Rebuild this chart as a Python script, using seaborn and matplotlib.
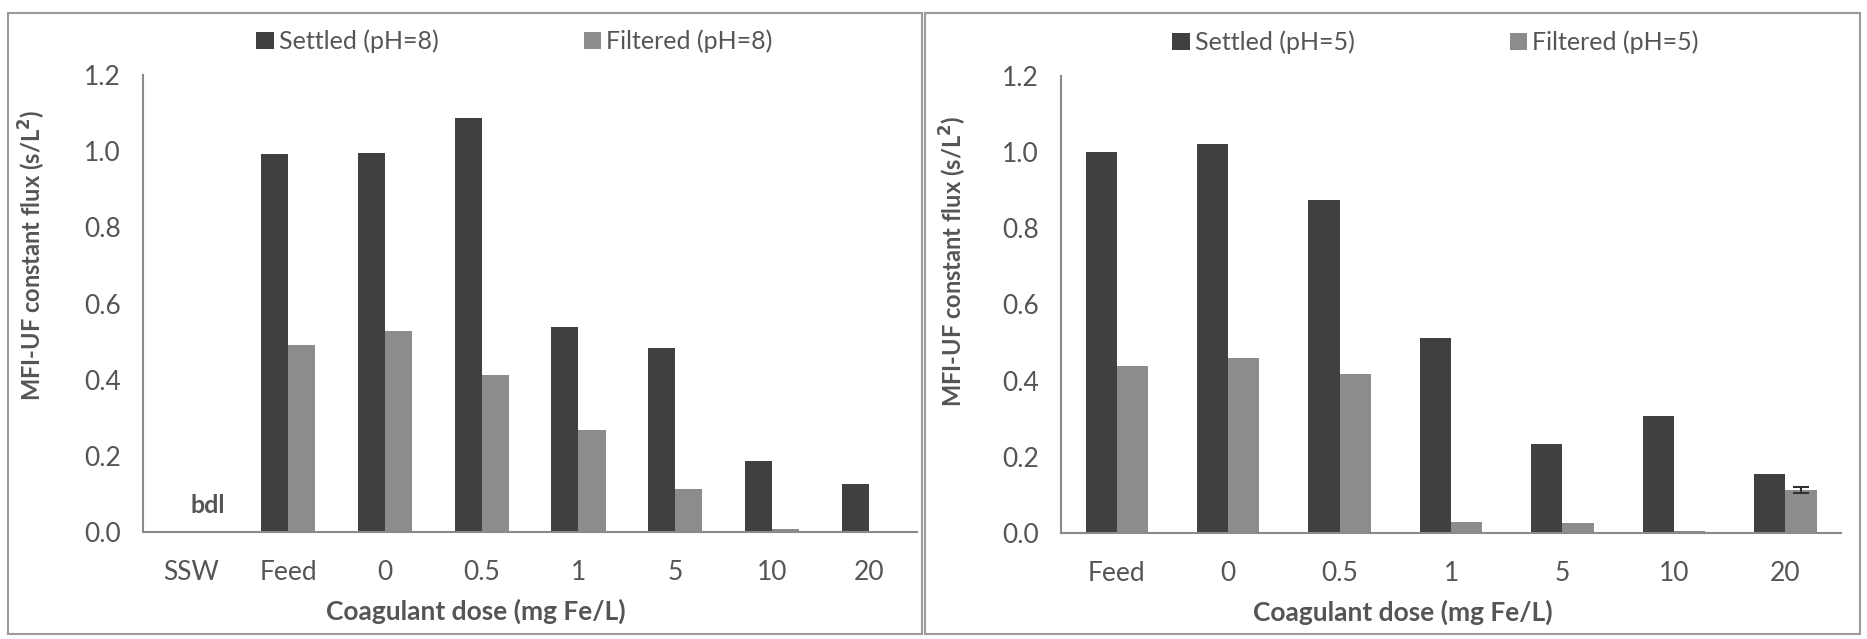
import numpy as np
import pandas as pd
import matplotlib
matplotlib.use("Agg")
import matplotlib.pyplot as plt
from matplotlib.patches import Rectangle
import seaborn as sns

# --- Data ---
doses_ph8 = ["SSW", "Feed", "0", "0.5", "1", "5", "10", "20"]
settled_ph8 = [0.0, 0.993, 0.995, 1.087, 0.539, 0.482, 0.187, 0.126]
filtered_ph8 = [0.0, 0.490, 0.528, 0.412, 0.268, 0.112, 0.007, 0.0]

doses_ph5 = ["Feed", "0", "0.5", "1", "5", "10", "20"]
settled_ph5 = [1.000, 1.021, 0.874, 0.513, 0.233, 0.306, 0.155]
filtered_ph5 = [0.438, 0.460, 0.417, 0.030, 0.025, 0.005, 0.113]
filtered_ph5_err = [0, 0, 0, 0, 0, 0, 0.008]

SETTLED_C = "#404040"
FILTERED_C = "#8c8c8c"
TEXT_C = "#555555"
AXIS_C = "#8a8a8a"

sns.set_style("white")
plt.rcParams["font.family"] = ["Lato", "DejaVu Sans"]


def make_frame(doses, settled, filtered, ph):
    lab_s = f"Settled (pH={ph})"
    lab_f = f"Filtered (pH={ph})"
    return pd.DataFrame({
        "dose": doses * 2,
        "value": settled + filtered,
        "series": [lab_s] * len(doses) + [lab_f] * len(doses),
    }), lab_s, lab_f


def draw_panel(ax, doses, settled, filtered, ph, ylab_xy, xlab_xy, leg_x, colsp):
    df, lab_s, lab_f = make_frame(doses, settled, filtered, ph)
    sns.barplot(data=df, x="dose", y="value", hue="series", order=doses,
                hue_order=[lab_s, lab_f], palette=[SETTLED_C, FILTERED_C],
                width=0.56, saturation=1, errorbar=None, ax=ax, linewidth=0)

    n = len(doses)
    ax.set_xlim(-0.5, n - 0.5)
    ax.set_ylim(0, 1.2)
    ax.set_yticks(np.arange(0, 1.21, 0.2))
    ax.set_yticklabels([f"{v:.1f}" for v in np.arange(0, 1.21, 0.2)])
    ax.set_xticks(np.arange(-0.5, n, 1.0), minor=True)
    ax.tick_params(axis="x", which="major", length=0, pad=20,
                   labelsize=19, labelcolor=TEXT_C)
    ax.tick_params(axis="x", which="minor", length=8, width=1.5,
                   color=AXIS_C, direction="out")
    ax.tick_params(axis="y", length=8, width=1.5, color=AXIS_C,
                   direction="out", labelsize=19, labelcolor=TEXT_C, pad=8)

    for side in ["top", "right"]:
        ax.spines[side].set_visible(False)
    for side in ["left", "bottom"]:
        ax.spines[side].set_color(AXIS_C)
        ax.spines[side].set_linewidth(1.5)

    ax.set_xlabel("Coagulant dose (mg Fe/L)", fontsize=19, fontweight="bold",
                  color=TEXT_C)
    ax.set_ylabel("MFI-UF constant flux (s/L$^\\mathbf{2}$)", fontsize=17,
                  fontweight="bold", color=TEXT_C)
    ax.yaxis.set_label_coords(*ylab_xy)
    ax.xaxis.set_label_coords(*xlab_xy)

    ax.legend(loc="center", bbox_to_anchor=(leg_x, 1.074), ncol=2, frameon=False,
              fontsize=18, labelcolor=TEXT_C, handlelength=0.7,
              handleheight=0.7, handletextpad=0.2, columnspacing=colsp)
    return ax


fig = plt.figure(figsize=(18.67, 6.39), dpi=100)

ax1 = fig.add_axes([0.0766, 0.1675, 0.4146, 0.715])
draw_panel(ax1, doses_ph8, settled_ph8, filtered_ph8, 8,
           (-0.123, 0.606), (0.43, -0.147), 0.48, 5.8)
ax1.text(0.17, 0.07, "bdl", ha="center", va="center", fontsize=18,
         fontweight="bold", color=TEXT_C)

ax2 = fig.add_axes([0.5683, 0.1660, 0.4178, 0.715])
draw_panel(ax2, doses_ph5, settled_ph5, filtered_ph5, 5,
           (-0.118, 0.595), (0.438, -0.145), 0.48, 6.2)

# small error bar on the filtered bar at 20 mg Fe/L (pH=5)
fil_bars = ax2.containers[1]
for patch, val, err in zip(fil_bars.patches, filtered_ph5, filtered_ph5_err):
    if err > 0:
        xc = patch.get_x() + patch.get_width() / 2
        ax2.errorbar(xc, val, yerr=err, fmt="none", ecolor="#303030",
                     elinewidth=1.5, capsize=6, capthick=1.5)

# panel borders
for x0, x1 in [(8, 922), (925, 1860)]:
    fig.patches.append(Rectangle((x0 / 1867, 1 - 634 / 639),
                                 (x1 - x0) / 1867, (634 - 13) / 639,
                                 transform=fig.transFigure, fill=False,
                                 edgecolor="#9a9a9a", linewidth=1.5))

fig.savefig("out.png", dpi=100)
